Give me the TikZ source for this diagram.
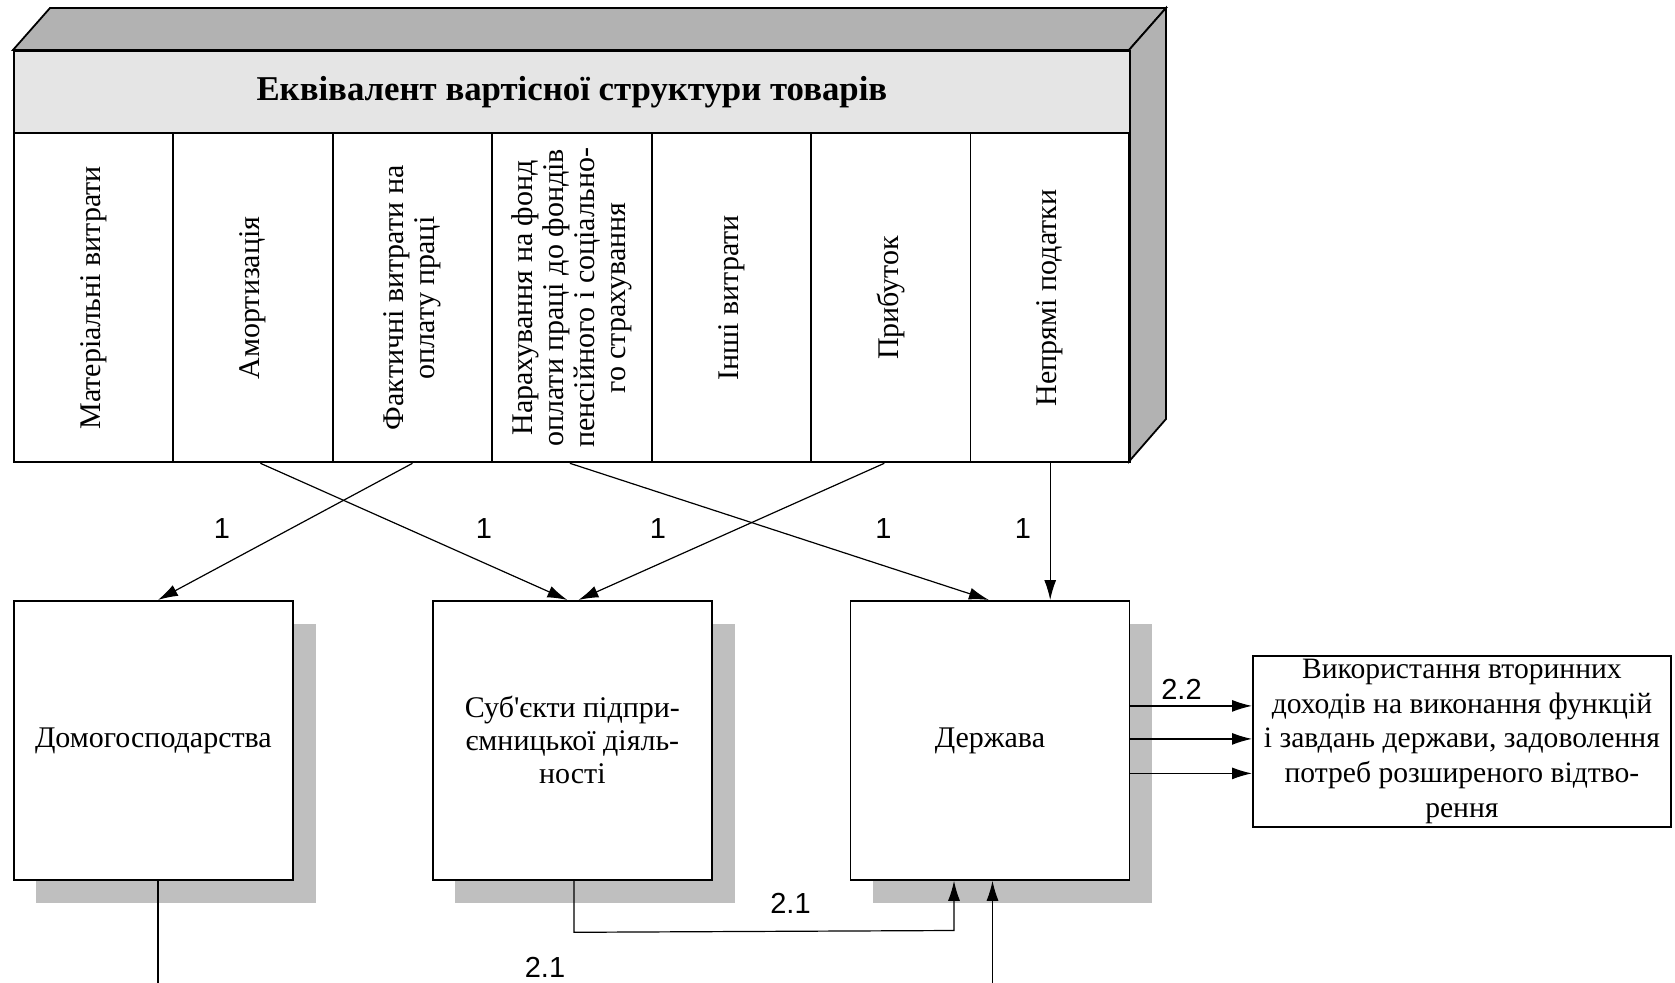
\documentclass[tikz,border=0pt]{standalone}
\usepackage{fontspec}
\setmainfont{Liberation Serif}
\newfontfamily\arialf{Liberation Sans}
\usetikzlibrary{arrows.meta,calc}
\begin{document}
\begin{tikzpicture}[x=0.5pt,y=-0.5pt,
  face/.style={draw,line width=0.9pt,fill=black!30},
  col/.style={draw,line width=0.9pt,minimum width=79.715pt,minimum height=164.5pt,inner sep=0pt,anchor=north west},
  ctext/.style={rotate=90,align=center,inner sep=0pt,font=\fontsize{15}{15.5}\selectfont},
  box/.style={draw,line width=0.9pt,fill=white,minimum width=139.5pt,minimum height=139.5pt,align=center,inner sep=0pt,anchor=north west,font=\fontsize{15}{16.5}\selectfont},
  shadowbox/.style={fill=black!25},
  arr/.style={-{Latex[length=10pt,width=6pt]},line width=0.6pt},
  lab/.style={font=\arialf\fontsize{14.5}{17}\selectfont,inner sep=0pt},
]
\useasboundingbox (0,0) rectangle (1675,983);
% 3D block
\filldraw[face] (13,50) -- (50,8) -- (1166,8) -- (1129,50) -- cycle;
\filldraw[face] (1129,50) -- (1166,8) -- (1166,419) -- (1129,461.5) -- cycle;
\node[draw,line width=0.9pt,fill=black!10,minimum width=558pt,minimum height=41.25pt,inner sep=0pt,anchor=north west,font=\bfseries\fontsize{17.4}{19}\selectfont] (head) at (13,50) {\raisebox{-1.5pt}{Еквівалент вартісної структури товарів}};
\foreach \k in {0,...,6}{
  \node[col] (c\k) at ({13+159.43*\k},132.5) {};
}
\node[ctext] (t0) at (c0) {Матеріальні витрати};
\node[ctext] (t1) at (c1) {Амортизація};
\node[ctext] (t2) at (c2) {Фактичні витрати на\\оплату праці};
\node[ctext] (t3) at (c3) {Нарахування на фонд\\оплати праці до фондів\\пенсійного і соціально-\\го страхування};
\node[ctext] (t4) at (c4) {Інші витрати};
\node[ctext] (t5) at (c5) {Прибуток};
\node[ctext] (t6) at (c6) {Непрямі податки};
% boxes with shadows
\fill[shadowbox] (36,623.5) rectangle (315.5,902.5);
\fill[shadowbox] (455,623.5) rectangle (734.5,902.5);
\fill[shadowbox] (872.5,623.5) rectangle (1152,902.5);
\node[box] (b1) at (13,600) {Домогосподарства};
\node[box] (b2) at (432,600) {Суб\textquotesingle єкти підпри-\\ємницької діяль-\\ності};
\node[box] (b3) at (849.5,600) {Держава};
\node[draw,line width=0.9pt,minimum width=209pt,minimum height=85.5pt,inner sep=0pt,anchor=north west,align=center,font=\fontsize{14.8}{17.4}\selectfont] (r) at (1252,655)
  {Використання вторинних\\доходів на виконання функцій\\і завдань держави, задоволення\\потреб розширеного відтво-\\рення};
% arrows from the block
\draw[arr] (c2.south) -- ($(b1.north)+(4.5,0)$);
\draw[arr] ($(c1.south)+(7.4,0)$) -- ($(b2.north)+(-5,0)$);
\draw[arr] ($(c5.south)+(-6.5,0)$) -- ($(b2.north)+(6,0)$);
\draw[arr] ($(c3.south)+(-2,0)$) -- ($(b3.north)+(-1,0)$);
\draw[arr] (c6.south) -- (c6.south |- b3.north);
\node[lab] (l1) at (222,529) {1};
\node[lab] (l2) at (484,529) {1};
\node[lab] (l3) at (658,529) {1};
\node[lab] (l4) at (883.5,529) {1};
\node[lab] (l5) at (1023,529) {1};
% arrows to the right box
\coordinate (e1) at ($(b3.east)+(0,-34.5)$);
\coordinate (e2) at ($(b3.east)+(0,-1.5)$);
\coordinate (e3) at ($(b3.east)+(0,33)$);
\draw[arr] (e1) -- (e1 -| r.west);
\draw[arr] (e2) -- (e2 -| r.west);
\draw[arr] (e3) -- (e3 -| r.west);
\node[lab] (l22) at (1181.5,689) {2.2};
% bottom connectors
\coordinate (k1) at ($(b2.south)+(1.5,51.5)$);
\coordinate (k2) at (954,930.5);
\draw[arr] ($(b2.south)+(1.5,0)$) -- (k1) -- (k2) -- (k2 |- b3.south);
\node[lab] (l21a) at (790.5,903) {2.1};
\coordinate (f1) at ($(b1.south)+(4.5,104)$);
\draw[line width=0.6pt] ($(b1.south)+(4.5,0)$) -- (f1);
\coordinate (f2) at (992.5,983);
\draw[arr] (f2) -- (f2 |- b3.south);
\node[lab] (l21b) at (545,967) {2.1};
\end{tikzpicture}
\end{document}
